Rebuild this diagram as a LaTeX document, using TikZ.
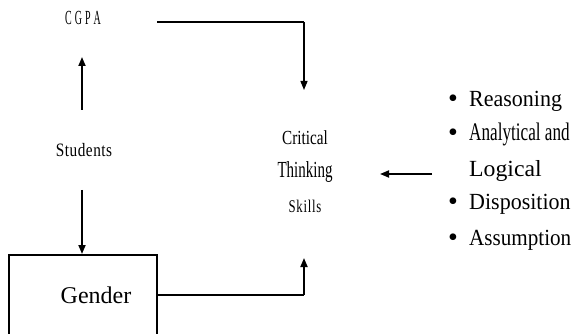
\documentclass[tikz,border=0pt]{standalone}
\usepackage{fontspec}
\setmainfont{Liberation Serif}
\usetikzlibrary{arrows.meta}
\tikzset{
  conn/.style={line width=1.8pt, -{Triangle[length=9pt,width=7pt]}},
  plain/.style={line width=1.8pt},
  lbl/.style={inner sep=0pt, anchor=base},
  item/.style={inner sep=0pt, anchor=base west},
  dot/.style={inner sep=0pt, anchor=base},
}
\begin{document}
\begin{tikzpicture}[x=1pt,y=-1pt]
\useasboundingbox (0,0) rectangle (576,334);
% texts
\node[lbl] (cgpa) at (83,25) {\scalebox{0.5}[1]{\fontsize{20}{20}\selectfont C\hspace{6pt}G\hspace{6pt}P\hspace{6pt}A}};
\node[lbl] (students) at (84,157) {\scalebox{0.85}[1.05]{\fontsize{18}{18}\selectfont S\hspace{0.6pt}t\hspace{0.6pt}u\hspace{0.6pt}d\hspace{0.6pt}e\hspace{0.6pt}n\hspace{0.6pt}t\hspace{0.6pt}s}};
\node[lbl] (crit) at (305,145) {\scalebox{0.8}[1.05]{\fontsize{19}{19}\selectfont Critical}};
\node[lbl] (think) at (305,178) {\scalebox{0.75}[1.15]{\fontsize{20}{20}\selectfont Thinking}};
\node[lbl] (skills) at (305,212) {\scalebox{0.75}[1.05]{\fontsize{17}{17}\selectfont S\hspace{1pt}k\hspace{1pt}i\hspace{1pt}l\hspace{1pt}l\hspace{1pt}s}};
\node[lbl] (gender) at (96,303) {\fontsize{24}{24}\selectfont Gender};
% bullet list
\node[item] (l1) at (469,107) {\scalebox{1.0}[1.05]{\fontsize{22}{22}\selectfont Reasoning}};
\node[item] (l2) at (469,141) {\scalebox{0.78}[1.15]{\fontsize{22}{22}\selectfont Analytical and}};
\node[item] (l3) at (469,177) {\scalebox{1.08}[1.05]{\fontsize{22}{22}\selectfont Logical}};
\node[item] (l4) at (469,210) {\scalebox{1.0}[1.05]{\fontsize{22}{22}\selectfont Disposition}};
\node[item] (l5) at (469,245) {\scalebox{0.96}[1.05]{\fontsize{22}{22}\selectfont Assumption}};
\foreach \n/\y in {b1/107,b2/141,b4/210,b5/245}
  \node[dot] (\n) at (453,\y+1) {\fontsize{28}{28}\selectfont •};
% gender box (open at the bottom edge of the picture)
\coordinate (gbl) at (9,334);
\coordinate (gtl) at (9,255);
\coordinate (gtr) at (157,255);
\coordinate (gbr) at (157,334);
\draw[line width=1.2pt] (gbl) -- (gtl) -- (gtr) -- (gbr);
% connector ends
\coordinate (s1) at (82,110);
\coordinate (c1) at (82,57);
\coordinate (s2) at (82,190);
\coordinate (g1) at (82,254);
\coordinate (cg0) at (157,22);
\coordinate (cg1) at (304,22);
\coordinate (ct1) at (304,90);
\coordinate (ge0) at (157,295);
\coordinate (ge1) at (304,295);
\coordinate (ct2) at (304,258);
\coordinate (li0) at (432,174);
\coordinate (ct3) at (380,174);
% connectors
\draw[conn] (s1) -- (c1);
\draw[conn] (s2) -- (g1);
\draw[plain] (cg0) -- (cg1);
\draw[conn, line width=1.4pt] (cg1) -- (ct1);
\draw[plain] (ge0) -- (ge1);
\draw[conn] (ge1) -- (ct2);
\draw[conn] (li0) -- (ct3);
\end{tikzpicture}
\end{document}
